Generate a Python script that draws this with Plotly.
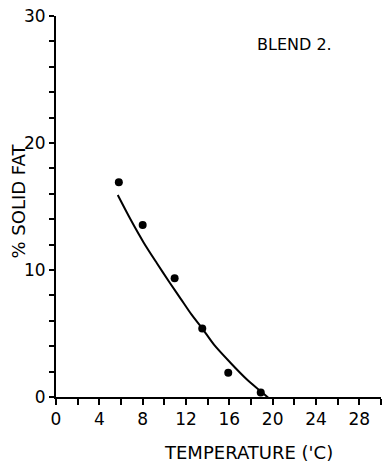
import plotly.graph_objects as go

# measured points
temp_pts = [5.8, 8.0, 10.95, 13.5, 15.9, 18.9]
fat_pts = [16.9, 13.55, 9.35, 5.4, 1.9, 0.35]

# fitted curve
temp_curve = [5.7, 6.9, 8.1, 9.3, 10.5, 11.5, 12.5, 13.5, 14.6, 16.1, 17.6, 18.9, 19.65]
fat_curve = [15.9, 13.95, 12.15, 10.55, 9.0, 7.75, 6.5, 5.4, 4.1, 2.7, 1.4, 0.45, -0.1]

x_ticks = [0, 4, 8, 12, 16, 20, 24, 28]
y_ticks = [0, 10, 20, 30]

FONT = "DejaVu Sans"

fig = go.Figure()
fig.add_trace(go.Scatter(x=temp_curve, y=fat_curve, mode="lines",
                         line=dict(color="black", width=2, shape="spline", smoothing=0.8),
                         showlegend=False, cliponaxis=False))
fig.add_trace(go.Scatter(x=temp_pts, y=fat_pts, mode="markers",
                         marker=dict(color="black", size=8),
                         showlegend=False, cliponaxis=False))

fig.update_layout(
    width=387, height=472,
    margin=dict(l=56, r=6, t=13, b=75),
    paper_bgcolor="white", plot_bgcolor="white",
    font=dict(family=FONT, color="black", size=17),
    xaxis=dict(range=[0, 30], tickmode="array",
               tickvals=list(range(0, 31, 2)),
               ticktext=[str(v) if v in x_ticks else "" for v in range(0, 31, 2)],
               ticks="outside", ticklen=6, tickwidth=1.5, tickcolor="black",
               showline=True, linecolor="black", linewidth=2,
               showgrid=False, zeroline=False,
               tickfont=dict(size=17, family=FONT)),
    yaxis=dict(range=[0, 30], tickmode="array",
               tickvals=list(range(0, 31, 2)),
               ticktext=[str(v) if v in y_ticks else "" for v in range(0, 31, 2)],
               ticks="outside", ticklen=5, tickwidth=1.5, tickcolor="black",
               showline=True, linecolor="black", linewidth=2,
               showgrid=False, zeroline=False,
               tickfont=dict(size=17, family=FONT)),
    annotations=[
        dict(text="TEMPERATURE ('C)", xref="paper", yref="paper",
             x=(248 - 56) / 325, y=-(453 - 397) / 384,
             xanchor="center", yanchor="middle", showarrow=False,
             font=dict(size=18, family=FONT)),
        dict(text="% SOLID FAT", xref="paper", yref="paper",
             x=-(56 - 19) / 325, y=(397 - 200) / 384, textangle=-90,
             xanchor="center", yanchor="middle", showarrow=False,
             font=dict(size=18, family=FONT)),
        dict(text="BLEND 2.", xref="paper", yref="paper",
             x=(294 - 56) / 325, y=(397 - 42) / 384,
             xanchor="center", yanchor="middle", showarrow=False,
             font=dict(size=16, family=FONT)),
    ],
)

fig.write_html("out.html")
